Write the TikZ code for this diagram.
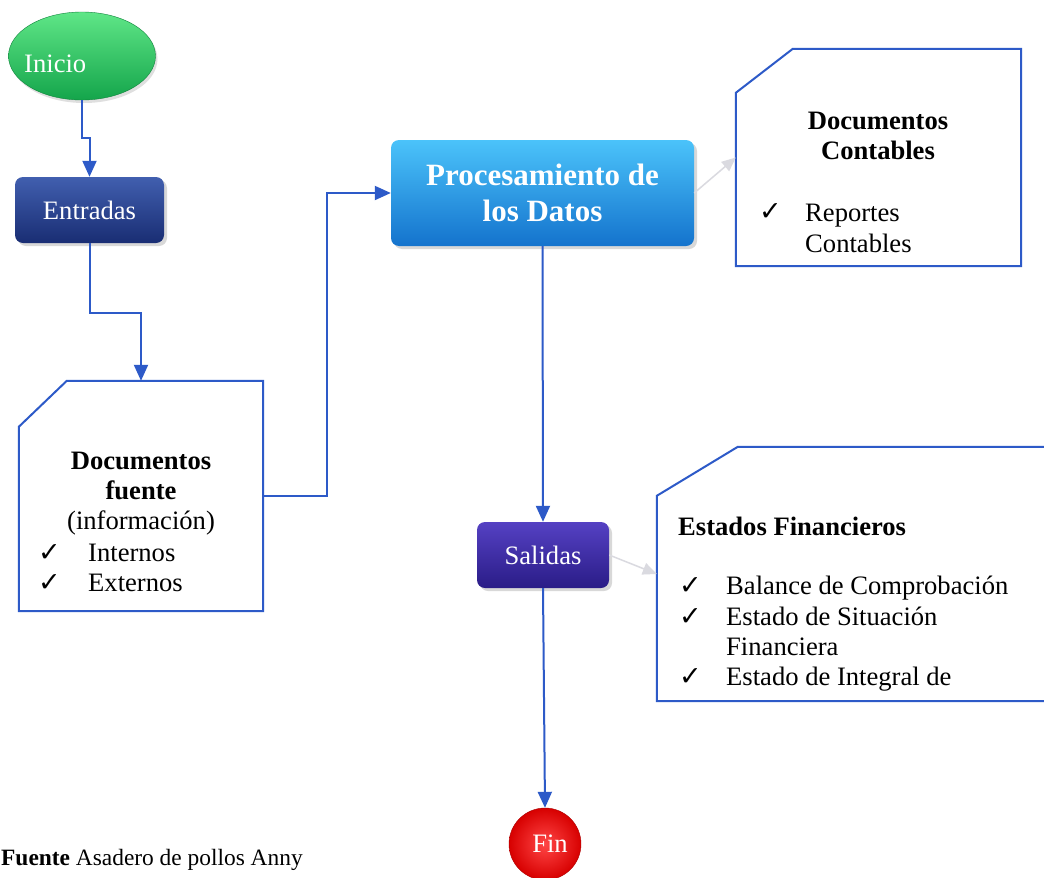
\documentclass[tikz,border=0pt]{standalone}
\usepackage{fontspec}
\setmainfont{Liberation Serif}
\newfontfamily\chk{DejaVu Sans}
\usetikzlibrary{arrows.meta,shadows,calc,shapes.geometric}
\definecolor{lineblue}{RGB}{45,90,200}
\definecolor{arrowgray}{RGB}{218,218,224}
\definecolor{inicioTop}{RGB}{95,230,135}
\definecolor{inicioBot}{RGB}{20,165,75}
\definecolor{entTop}{RGB}{65,95,175}
\definecolor{entBot}{RGB}{25,45,115}
\definecolor{procTop}{RGB}{75,195,250}
\definecolor{procBot}{RGB}{20,115,205}
\definecolor{salTop}{RGB}{85,65,195}
\definecolor{salBot}{RGB}{42,28,135}
\definecolor{finIn}{RGB}{255,70,70}
\definecolor{finOut}{RGB}{215,0,0}
\begin{document}
\begin{tikzpicture}[x=1pt,y=-1pt,
  conn/.style={draw=lineblue, line width=2pt, -{Triangle[length=16pt,width=14pt]}},
  faint/.style={draw=arrowgray, line width=1.5pt, -{Triangle[length=14pt,width=12pt]}},
  docline/.style={draw=lineblue, line width=2pt, line join=miter},
  glossy/.style={rounded corners=8pt, text=white, inner sep=0pt,
    drop shadow={shadow xshift=3pt, shadow yshift=-3pt, opacity=0.3}},
  regular/.style={font=\fontsize{26.6}{31}\selectfont},
  boldtxt/.style={font=\bfseries\fontsize{26.6}{31}\selectfont},
  txt/.style={regular, inner sep=0pt, anchor=base west},
  ctxt/.style={inner sep=0pt, anchor=base},
  tick/.style={font=\chk\fontsize{27}{27}\selectfont, inner sep=0pt, anchor=base west},
  frame/.style={draw=none, inner sep=0pt}]
\useasboundingbox (0,0) rectangle (1044,878);
\fill[white] (0,0) rectangle (1044,878);

% Inicio
\node[ellipse, minimum width=147pt, minimum height=88pt, top color=inicioTop, bottom color=inicioBot,
  draw=inicioBot!80!black, line width=0.4pt, drop shadow={shadow xshift=2pt, shadow yshift=-3pt, opacity=0.25}] (inicio) at (82,56) {};
\node[txt, text=white] (iniciotxt) at (24,72) {Inicio};

% Entradas
\node[glossy, top color=entTop, bottom color=entBot, minimum width=149pt, minimum height=66pt, regular] (entradas) at (89.5,210) {Entradas};

% Procesamiento
\node[glossy, top color=procTop, bottom color=procBot, minimum width=303pt, minimum height=106pt,
  align=center, font=\bfseries\fontsize{31}{36}\selectfont] (proc) at (542.5,193) {Procesamiento de\\los Datos};

% Salidas
\node[glossy, top color=salTop, bottom color=salBot, minimum width=132pt, minimum height=66pt, regular] (salidas) at (543,555) {Salidas};

% Fin
\node[circle, minimum size=72pt, inner color=finIn, outer color=finOut, draw=finOut!80!black, line width=0.4pt,
  text=white, regular, inner sep=0pt] (fin) at (545,844) {\hspace{10pt}Fin};

% Documentos fuente
\node[frame, minimum width=244pt, minimum height=230pt] (dfuente) at (141,496) {};
\draw[docline] ($(dfuente.north west)+(48,0)$) -- (dfuente.north east) -- (dfuente.south east)
  -- (dfuente.south west) -- ($(dfuente.north west)+(0,46)$) -- cycle;
\node[ctxt, boldtxt] (dft1) at (141,469) {Documentos};
\node[ctxt, boldtxt] (dft2) at (141,499) {fuente};
\node[ctxt, regular] (dft3) at (141,529) {(información)};
\node[tick] (dfc1) at (38,561) {✓};
\node[txt] (dft4) at (88,561) {Internos};
\node[tick] (dfc2) at (38,591) {✓};
\node[txt] (dft5) at (88,591) {Externos};

% Documentos Contables
\node[frame, minimum width=285pt, minimum height=217pt] (doccont) at (878.5,157.5) {};
\draw[docline] ($(doccont.north west)+(57,0)$) -- (doccont.north east) -- (doccont.south east)
  -- (doccont.south west) -- ($(doccont.north west)+(0,44)$) -- cycle;
\node[ctxt, boldtxt] (dct1) at (878,129) {Documentos};
\node[ctxt, boldtxt] (dct2) at (878,159) {Contables};
\node[tick] (dcc1) at (759,220) {✓};
\node[txt] (dct3) at (805,221) {Reportes};
\node[txt] (dct4) at (805,252) {Contables};

% Estados Financieros
\node[frame, minimum width=387pt, minimum height=254pt] (estados) at (850.5,574) {};
\draw[docline] (estados.north east) -- ($(estados.north west)+(81,0)$) -- ($(estados.north west)+(0,49)$)
  -- (estados.south west) -- (estados.south east);
\node[txt, boldtxt] (eft1) at (678,535) {Estados Financieros};
\node[tick] (efc1) at (679,594) {✓};
\node[txt] (eft2) at (726,594) {Balance de Comprobación};
\node[tick] (efc2) at (679,625) {✓};
\node[txt] (eft3) at (726,625) {Estado de Situación};
\node[txt] (eft4) at (726,655) {Financiera};
\node[tick] (efc3) at (679,685) {✓};
\node[txt] (eft5) at (726,685) {Estado de Integral de};

% Fuente
\node[txt, font=\fontsize{23.4}{27}\selectfont] (fuente) at (1,865) {\textbf{Fuente} Asadero de pollos Anny};

% Connectors
\draw[conn] (inicio.south) -- ++(0,38) -| (entradas.north);
\draw[conn] (entradas.south) -- ++(0,70) -| (dfuente.north);
\draw[conn] (dfuente.east) -- ++(64,0) |- (proc.west);
\draw[conn] (proc.south) -- (salidas.north);
\draw[conn] (salidas.south) -- (fin.north);
\draw[faint] (proc.east) -- (doccont.west);
\draw[faint] (salidas.east) -- (estados.west);
\end{tikzpicture}
\end{document}
